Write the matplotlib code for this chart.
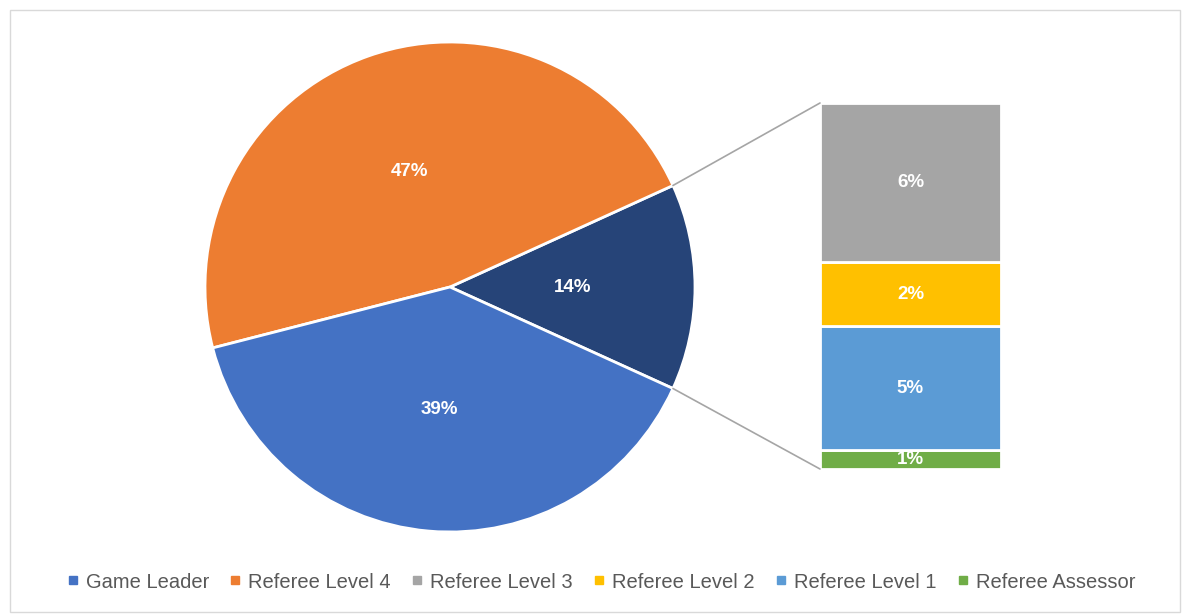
import matplotlib
matplotlib.use('Agg')
import matplotlib.pyplot as plt
from matplotlib.patches import ConnectionPatch, Rectangle
from matplotlib.lines import Line2D
import numpy as np

plt.rcParams['font.family'] = ['Liberation Sans', 'DejaVu Sans']

# main pie: "Other" is the wedge that gets broken out into the bar
pie_labels = ['Other', 'Referee Level 4', 'Game Leader']
pie_values = [13.6, 47.2, 39.2]
pie_colors = ['#264478', '#ED7D31', '#4472C4']

# breakdown of "Other", bottom to top
bar_labels = ['Referee Assessor', 'Referee Level 1', 'Referee Level 2', 'Referee Level 3']
bar_values = [0.7, 4.6, 2.4, 5.9]
bar_text = ['1%', '5%', '2%', '6%']
bar_colors = ['#70AD47', '#5B9BD5', '#FFC000', '#A5A5A5']

legend_labels = ['Game Leader', 'Referee Level 4', 'Referee Level 3',
                 'Referee Level 2', 'Referee Level 1', 'Referee Assessor']
legend_colors = ['#4472C4', '#ED7D31', '#A5A5A5', '#FFC000', '#5B9BD5', '#70AD47']

W, H = 1182, 614
fig = plt.figure(figsize=(W / 100, H / 100), dpi=100)

# pie axes in pixel coordinates
ax = fig.add_axes([0, 0, 1, 1])
cx, cy, r = 450, H - 287, 245
half = pie_values[0] / sum(pie_values) * 180
wedges, texts, autotexts = ax.pie(
    pie_values, colors=pie_colors, startangle=-half, counterclock=True,
    center=(cx, cy), radius=r, autopct='%1.0f%%', pctdistance=0.5,
    wedgeprops=dict(edgecolor='white', linewidth=2), frame=True,
    textprops=dict(color='white', fontsize=13.5, fontweight='bold'))
ax.set_xlim(0, W)
ax.set_ylim(0, H)
ax.set_aspect('auto')
ax.axis('off')

# bar of pie
bx = fig.add_axes([820 / W, (H - 469) / H, 181 / W, 366 / H])
bottom = 0
bars = []
for v, c in zip(bar_values, bar_colors):
    b = bx.bar(0, v, bottom=bottom, width=1, color=c, edgecolor='white', linewidth=2)
    bars.append(b)
    bottom += v
for b, t in zip(bars, bar_text):
    bx.bar_label(b, labels=[t], label_type='center', color='white',
                 fontsize=13.5, fontweight='bold')
bx.set_xlim(-0.5, 0.5)
bx.set_ylim(0, sum(bar_values))
bx.axis('off')

# connector lines
theta = np.radians(half)
for sgn, ypos in [(1, 1), (-1, 0)]:
    p = (cx + r * np.cos(theta), cy + sgn * r * np.sin(theta))
    con = ConnectionPatch(xyA=p, coordsA=ax.transData,
                          xyB=(0, ypos), coordsB=bx.transAxes,
                          color='#A5A5A5', linewidth=1.2)
    fig.add_artist(con)

# legend
handles = [Line2D([], [], marker='s', linestyle='', markersize=6, color=c)
           for c in legend_colors]
fig.legend(handles, legend_labels, loc='center', bbox_to_anchor=(0.508, (H - 582) / H),
           ncol=6, frameon=False, fontsize=14.5, handletextpad=0.3,
           columnspacing=0.95, handlelength=0.7, labelcolor='#595959')

# chart border
fig.add_artist(Rectangle((10 / W, 2 / H), 1170 / W, 602 / H, transform=fig.transFigure,
                         fill=False, edgecolor='#D9D9D9', linewidth=1))

fig.savefig('out.png', dpi=100)
